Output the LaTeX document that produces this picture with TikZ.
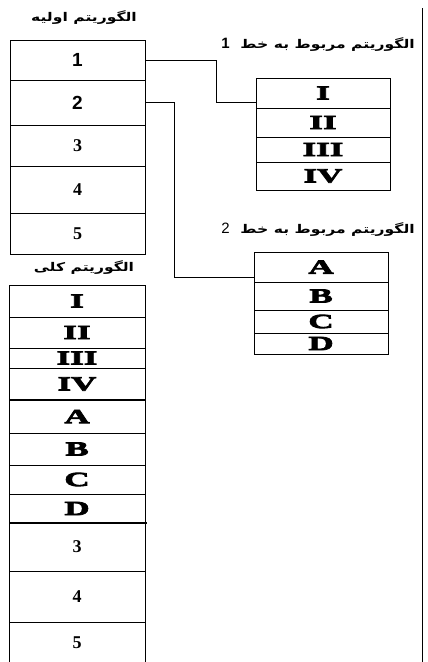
\documentclass[tikz,border=0pt]{standalone}
\usepackage{fontspec}
\usetikzlibrary{positioning}
\TeXXeTstate=1
\newfontfamily\farsifont[Script=Arabic, FakeStretch=1.3]{DejaVu Sans}
\newfontfamily\numsans{Liberation Sans}
\newfontfamily\numserif{Liberation Serif}
\newfontfamily\heavyfont[FakeStretch=1.75, FakeBold=4]{Liberation Serif}
\tikzset{
  every picture/.style={line width=0.9pt},
  cell/.style={draw, inner sep=0pt, outer sep=0pt, minimum width=135pt},
  digs/.style={font=\numsans\bfseries\fontsize{19}{19}\selectfont},
  digr/.style={font=\numserif\bfseries\fontsize{18}{18}\selectfont},
  rom/.style={font=\heavyfont\bfseries\fontsize{20}{20}\selectfont},
  titel/.style={font=\farsifont\bfseries\fontsize{12}{12}\selectfont},
  wire/.style={line width=0.9pt},
  sep/.style={line width=2.6pt},
}

\begin{document}
\begin{tikzpicture}[x=1pt, y=-1pt]
  \useasboundingbox (0,0) rectangle (428,662);
  \node[titel] (tt) at (84,18) {\beginR الگوریتم اولیه\endR};
  \foreach \n/\y/\h in {1/60/40, 2/102.5/45}
    \node[cell, digs, minimum height=\h pt] (t\n) at (77.5,\y) {\n};
  \foreach \n/\y/\h in {3/145.5/41, 4/189.5/47, 5/233.5/41}
    \node[cell, digr, minimum height=\h pt] (t\n) at (77.5,\y) {\n};

  \node[titel] (l1) at (318,45) {\beginR الگوریتم مربوط به خط\ \ {\numsans\bfseries\fontsize{15}{15}\selectfont 1}\endR};
  \foreach \n/\y/\h in {I/93/30, II/122.5/29, III/149.5/25, IV/176/28}
    \node[cell, rom, minimum width=134pt, minimum height=\h pt] (ra\n) at (323,\y) {\n};

  \node[titel] (l2) at (318,230) {\beginR الگوریتم مربوط به خط\ \ {\numsans\mdseries\fontsize{15}{15}\selectfont 2}\endR};
  \foreach \n/\y/\h in {A/267/30, B/296/28, C/321.5/23, D/343.5/21}
    \node[cell, rom, minimum width=134pt, minimum height=\h pt] (rb\n) at (321,\y) {\n};

  \node[titel] (tk) at (84,268) {\beginR الگوریتم کلی\endR};
  \foreach \n/\y/\h in {I/301/32, II/332.5/31, III/358/20, IV/384/32, A/416.5/33, B/449/32, C/479.5/29, D/508.5/29}
    \node[cell, rom, minimum width=136pt, minimum height=\h pt] (b\n) at (77,\y) {\n};
  \foreach \n/\y/\h in {3/547/48, 4/596.5/51, 5/643/42}
    \node[cell, digr, minimum width=136pt, minimum height=\h pt] (b\n) at (77,\y) {\n};
  \draw[sep] (bIV.south west) -- (bIV.south east);
  \draw[sep] (bD.south west) -- ([xshift=2pt]bD.south east);

  \coordinate (k1) at (216,102);
  \coordinate (k2) at (174,277);
  \draw[wire] (t1.east) -| (k1) -- (raI.west |- k1);
  \draw[wire] (t2.east) -| (k2) -- (rbA.west |- k2);

  \coordinate (rtop) at (422,8);
  \coordinate (rbot) at (422,662);
  \draw[wire] (rtop) -- (rbot);
\end{tikzpicture}
\end{document}
